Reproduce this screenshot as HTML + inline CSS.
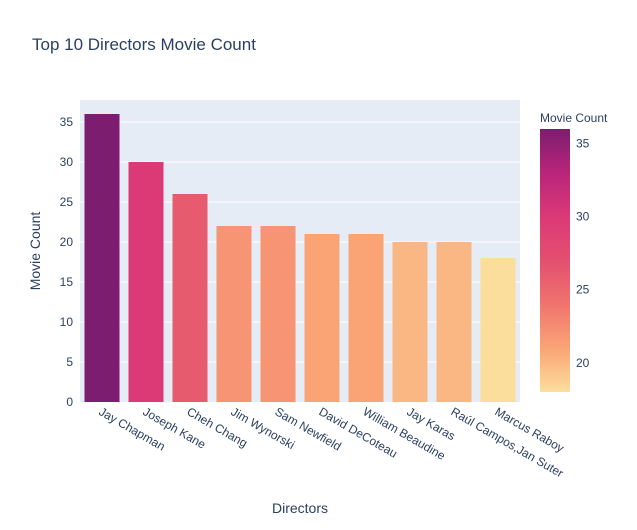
<!DOCTYPE html>
<html><head><meta charset="utf-8"><style>
body{margin:0;background:#fff;font-family:"Liberation Sans",sans-serif}
svg text{font-family:"Liberation Sans",sans-serif;fill:#2a3f5f}
</style></head><body>
<svg width="637" height="525">
<defs><linearGradient id="cg" x1="0" y1="1" x2="0" y2="0">
<stop offset="0" stop-color="rgb(252,222,156)"/><stop offset="0.1667" stop-color="rgb(250,164,118)"/>
<stop offset="0.3333" stop-color="rgb(240,116,110)"/><stop offset="0.5" stop-color="rgb(227,79,111)"/>
<stop offset="0.6667" stop-color="rgb(220,57,119)"/><stop offset="0.8333" stop-color="rgb(185,37,122)"/>
<stop offset="1" stop-color="rgb(124,29,111)"/></linearGradient></defs>
<text x="32" y="50" font-size="17">Top 10 Directors Movie Count</text>
<rect x="80" y="100" width="440" height="302" fill="#e5ecf6"/>
<g id="grid"></g><g id="bars"></g><g id="xl"></g><g id="yl"></g>
<text x="300" y="513" font-size="14" text-anchor="middle">Directors</text>
<text transform="translate(40,251) rotate(-90)" font-size="14" text-anchor="middle">Movie Count</text>
<text x="540" y="122" font-size="12">Movie Count</text>
<rect x="540" y="129" width="30" height="263" fill="url(#cg)"/>
<g id="cb"></g>
</svg>
<script>
const categories=["Jay Chapman","Joseph Kane","Cheh Chang","Jim Wynorski","Sam Newfield","David DeCoteau","William Beaudine","Jay Karas","Raúl Campos,Jan Suter","Marcus Raboy"];
const values=[36,30,26,22,22,21,21,20,20,18];
const yTicks=[0,5,10,15,20,25,30,35];
const cbTicks=[20,25,30,35];
const NS="http://www.w3.org/2000/svg";
const y=v=>402-v*8;
const x0=80,bw=44;
const stops=[[252,222,156],[250,164,118],[240,116,110],[227,79,111],[220,57,119],[185,37,122],[124,29,111]];
const mn=Math.min(...values),mx=Math.max(...values);
function col(v){let t=(v-mn)/(mx-mn)*6;let i=Math.min(5,Math.floor(t)),f=t-i;const a=stops[i],b=stops[i+1];return`rgb(${a.map((c,k)=>Math.round(c+(b[k]-c)*f)).join(',')})`;}
function mk(tag,attrs,parent){const e=document.createElementNS(NS,tag);for(const k in attrs)e.setAttribute(k,attrs[k]);document.getElementById(parent).appendChild(e);return e;}
yTicks.forEach(t=>{
 if(t>0){const l=mk('line',{x1:80,x2:520,y1:y(t),y2:y(t),stroke:'#fff','stroke-width':1},'grid');
 
 }
 const tx=mk('text',{x:73,y:y(t)+4,'font-size':12,'text-anchor':'end'},'yl');tx.textContent=t;
 
 
});
categories.forEach((c,i)=>{
 const cx=x0+bw*i+bw/2;
 const r=mk('rect',{x:cx-17.5,y:y(values[i]),width:35,height:402-y(values[i]),fill:col(values[i])},'bars');
 
 
 const tx=mk('text',{transform:`translate(${cx-4},${414}) rotate(30)`,'font-size':12},'xl');tx.textContent=c;
 
 
});
const cy=v=>392-(v-mn)/(mx-mn)*263;
cbTicks.forEach(t=>{
 const tx=mk('text',{x:576,y:cy(t)+4,'font-size':12},'cb');tx.textContent=t;
 
 
});
</script>
</body></html>
